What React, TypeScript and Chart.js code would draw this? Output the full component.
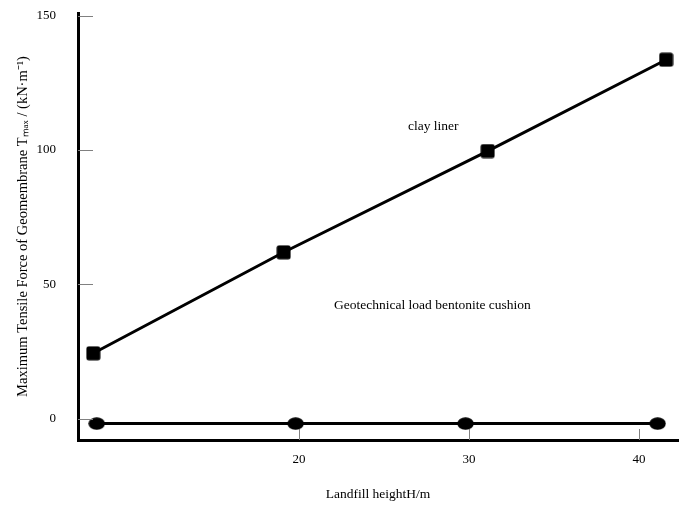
import React, { useEffect, useRef } from "react";
import { Chart, registerables } from "chart.js";

Chart.register(...registerables);

const clayLinerHeights = [7.9, 19.1, 31.1, 41.6];
const clayLinerForces = [24.3, 61.9, 99.6, 133.6];
const bentoniteHeights = [8.1, 19.8, 29.8, 41.1];
const bentoniteForces = [-1.9, -1.9, -1.9, -1.9];
const xTickValues = [20, 30, 40];
const yTickValues = [0, 50, 100, 150];
const seriesNames = ["clay liner", "Geotechnical load bentonite cushion"];
const xAxisTitle = "Landfill heightH/m";
const yAxisTitle = "Maximum Tensile Force of Geomembrane T\u2098\u2090\u2093 / (kN\u00b7m\u207b\u00b9)";

const FONT = "'Liberation Serif', 'Times New Roman', serif";

function makeSquare(): HTMLCanvasElement {
  const c = document.createElement("canvas");
  c.width = 15;
  c.height = 15;
  const g = c.getContext("2d")!;
  g.fillStyle = "#000";
  g.beginPath();
  (g as any).roundRect(0.5, 0.5, 14, 14, 2.5);
  g.fill();
  return c;
}

function makeEllipse(): HTMLCanvasElement {
  const c = document.createElement("canvas");
  c.width = 17;
  c.height = 13;
  const g = c.getContext("2d")!;
  g.fillStyle = "#000";
  g.beginPath();
  g.ellipse(8.5, 6.5, 8.2, 6.2, 0, 0, Math.PI * 2);
  g.fill();
  return c;
}

const innerTicksAndLabels = {
  id: "innerTicksAndLabels",
  afterDraw(chart: any) {
    const { ctx, chartArea, scales } = chart;
    const xs = scales.x;
    const ys = scales.y;
    ctx.save();
    ctx.strokeStyle = "#808080";
    ctx.lineWidth = 1;
    yTickValues.forEach((v) => {
      const py = Math.round(ys.getPixelForValue(v)) + 0.5;
      ctx.beginPath();
      ctx.moveTo(chartArea.left, py);
      ctx.lineTo(chartArea.left + 15, py);
      ctx.stroke();
    });
    xTickValues.forEach((v) => {
      const px = Math.round(xs.getPixelForValue(v)) + 0.5;
      ctx.beginPath();
      ctx.moveTo(px, chartArea.bottom);
      ctx.lineTo(px, chartArea.bottom - 11);
      ctx.stroke();
    });
    ctx.fillStyle = "#000";
    ctx.font = `13.5px ${FONT}`;
    ctx.textAlign = "center";
    ctx.textBaseline = "middle";
    ctx.fillText(seriesNames[0], xs.getPixelForValue(27.9), ys.getPixelForValue(108.6));
    ctx.fillText(seriesNames[1], xs.getPixelForValue(27.85), ys.getPixelForValue(42.2));
    ctx.restore();
  },
};

export default function App() {
  const ref = useRef<HTMLCanvasElement | null>(null);
  useEffect(() => {
    if (!ref.current) return;
    const square = makeSquare();
    const ellipse = makeEllipse();
    const chart = new Chart(ref.current, {
      type: "scatter",
      data: {
        datasets: [
          {
            label: seriesNames[0],
            data: clayLinerHeights.map((x, i) => ({ x, y: clayLinerForces[i] })),
            showLine: true,
            borderColor: "#000",
            backgroundColor: "#000",
            borderWidth: 3,
            pointStyle: square as any,
            pointRadius: 7,
          },
          {
            label: seriesNames[1],
            data: bentoniteHeights.map((x, i) => ({ x, y: bentoniteForces[i] })),
            showLine: true,
            borderColor: "#000",
            backgroundColor: "#000",
            borderWidth: 3,
            pointStyle: ellipse as any,
            pointRadius: 7,
          },
        ],
      },
      options: {
        animation: false,
        responsive: false,
        layout: { padding: { top: 13, right: 11, left: 0, bottom: 0 } },
        plugins: { legend: { display: false }, tooltip: { enabled: false } },
        scales: {
          x: {
            type: "linear",
            min: 7,
            max: 42.3,
            afterBuildTicks: (s: any) => {
              s.ticks = xTickValues.map((v) => ({ value: v }));
            },
            afterFit: (s: any) => {
              s.height = 67;
              s.paddingLeft = 0;
              s.paddingRight = 0;
            },
            grid: { display: true, drawOnChartArea: false, drawTicks: false },
            border: { display: true, color: "#000", width: 3 },
            ticks: { color: "#000", font: { family: FONT, size: 13 }, padding: 12 },
            title: {
              display: true,
              text: xAxisTitle,
              color: "#000",
              font: { family: FONT, size: 13.5 },
              padding: { top: 0, bottom: 4 },
            },
          },
          y: {
            type: "linear",
            min: -8,
            max: 151,
            afterBuildTicks: (s: any) => {
              s.ticks = yTickValues.map((v) => ({ value: v }));
            },
            afterFit: (s: any) => {
              s.width = 78;
              s.paddingTop = 0;
              s.paddingBottom = 0;
            },
            grid: { display: true, drawOnChartArea: false, drawTicks: false },
            border: { display: true, color: "#000", width: 3 },
            ticks: { color: "#000", font: { family: FONT, size: 13 }, padding: 22 },
            title: {
              display: true,
              text: yAxisTitle,
              color: "#000",
              font: { family: FONT, size: 14.5 },
              padding: { top: 14, bottom: 0 },
            },
          },
        },
      },
      plugins: [innerTicksAndLabels],
    });
    return () => chart.destroy();
  }, []);
  return (
    <div style={{ position: "fixed", left: 0, top: 0, width: 689, height: 507, background: "#fff" }}>
      <canvas ref={ref} width={689} height={507} />
    </div>
  );
}
